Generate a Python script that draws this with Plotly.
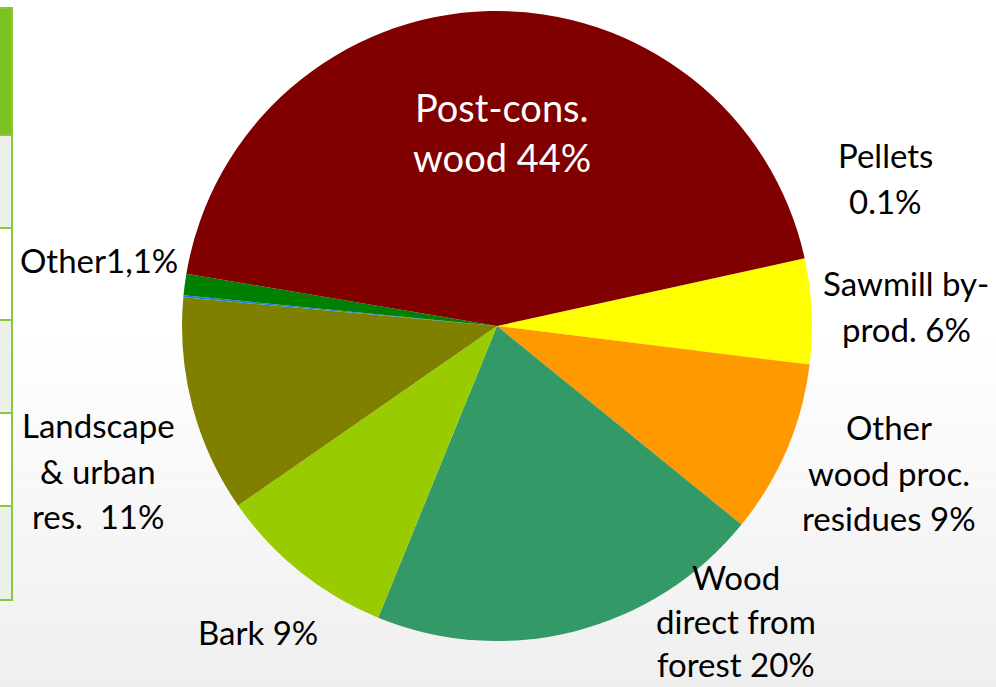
import plotly.graph_objects as go

# ---- data ----
categories = ["Sawmill by-prod.", "Other wood proc. residues", "Wood direct from forest",
              "Bark", "Landscape & urban res.", "Pellets", "Other1", "Post-cons. wood"]
values = [5.4, 8.9, 20.3, 9.2, 11.1, 0.1, 1.1, 43.9]
colors = ["#ffff00", "#ff9900", "#339966", "#99cc00", "#808000", "#1f7fd6", "#008000", "#800000"]

# label texts (lines) and their centre positions in pixels
label_lines = [
    (["Post-cons.", "wood 44%"], 502, 107, 50, "white", 38),
    (["Other1,1%"], 99, 260, 45.5, "black", 33),
    (["Pellets", "0.1%"], 885, 155, 45.5, "black", 33),
    (["Sawmill by-", "prod. 6%"], 906, 283, 45.5, "black", 33),
    (["Other", "wood proc.", "residues 9%"], 889, 427, 45.5, "black", 33),
    (["Wood", "direct from", "forest 20%"], 736, 577, 43.5, "black", 33),
    (["Bark 9%"], 258, 632, 45.5, "black", 33),
    (["Landscape", "& urban", "res.  11%"], 98, 425, 45.5, "black", 33),
]

W, H = 996, 687
FONT = "Lato, 'Open Sans', sans-serif"

fig = go.Figure()
cx, cy, r = 497, 326, 315
fig.add_trace(go.Pie(
    labels=categories, values=values, sort=False, direction="clockwise",
    rotation=77.6, textinfo="none", hoverinfo="label+percent",
    marker=dict(colors=colors, line=dict(width=0)),
    domain=dict(x=[(cx - r) / W, (cx + r) / W], y=[1 - (cy + r) / H, 1 - (cy - r) / H]),
    showlegend=False,
))

annotations = []
for lines, x, y0, step, col, size in label_lines:
    for i, t in enumerate(lines):
        annotations.append(dict(
            text=t, x=x / W, y=1 - (y0 + i * step) / H, xref="paper", yref="paper",
            xanchor="center", yanchor="middle", showarrow=False, borderpad=0,
            font=dict(family=FONT, size=size, color=col)))

shapes = []
# background gradient
g0, g1 = 320, H
n = 40
for i in range(n):
    t = i / (n - 1)
    c = int(round(255 - t * (255 - 239)))
    ya = g0 + (g1 - g0) * i / n
    yb = g0 + (g1 - g0) * (i + 1) / n
    shapes.append(dict(type="rect", xref="paper", yref="paper", x0=0, x1=1,
                       y0=1 - yb / H, y1=1 - ya / H, line=dict(width=0),
                       fillcolor=f"rgb({c},{c},{c})", layer="below"))
# partial table at the left edge
tx = 12 / W
rows = [8, 135, 228, 320, 413, 506, 600]
fills = ["#7cc11f", "#ebf1e6", "#ffffff", "#ebf1e6", "#ffffff", "#ebf1e6"]
for i in range(len(rows) - 1):
    shapes.append(dict(type="rect", xref="paper", yref="paper", x0=-0.01, x1=tx,
                       y0=1 - rows[i + 1] / H, y1=1 - rows[i] / H,
                       fillcolor=fills[i], line=dict(color="#8cc63f", width=2), layer="below"))

fig.update_layout(
    width=W, height=H, margin=dict(l=0, r=0, t=0, b=0),
    paper_bgcolor="white", plot_bgcolor="white",
    annotations=annotations, shapes=shapes,
)
fig.write_html("out.html", config={"displayModeBar": False},
               post_script="document.body.style.margin='0';document.body.style.overflow='hidden';")
